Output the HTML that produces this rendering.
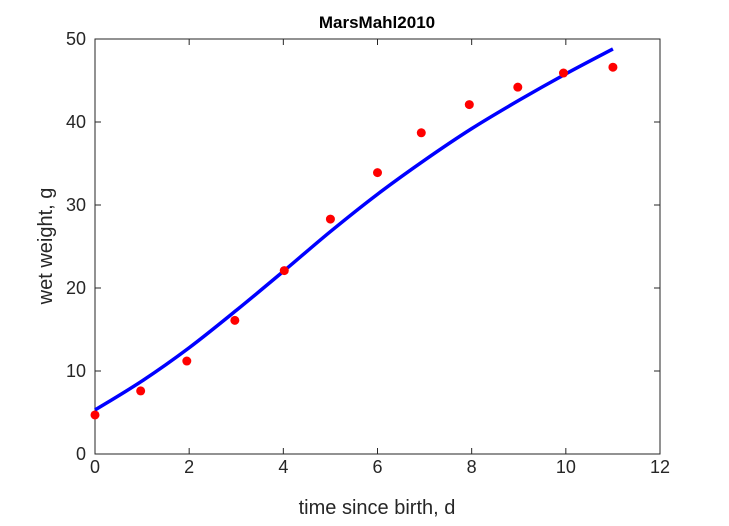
<!DOCTYPE html>
<html><head><meta charset="utf-8"><style>
body{margin:0;background:#fff}
svg text{font-family:"Liberation Sans",Arial,sans-serif}
</style></head><body>
<svg id="chart" width="729" height="521" xmlns="http://www.w3.org/2000/svg">
<rect width="729" height="521" fill="#fff"/>
<g id="axes"></g>
<g id="marks"></g>
<text x="377" y="28" text-anchor="middle" font-size="17" font-weight="bold">MarsMahl2010</text>
<text x="377" y="514" text-anchor="middle" font-size="20" fill="#262626">time since birth, d</text>
<text transform="translate(52,246) rotate(-90)" text-anchor="middle" font-size="20" fill="#262626">wet weight, g</text>
</svg>
<script>
const xTicks=[0,2,4,6,8,10,12];
const yTicks=[0,10,20,30,40,50];
const dataT=[0,0.97,1.95,2.97,4.02,5,6,6.93,7.95,8.98,9.95,11];
const dataW=[4.7,7.6,11.2,16.1,22.1,28.3,33.9,38.7,42.1,44.2,45.9,46.6];
const fitT=[0,1,2,3,4,5,6,7,8,9,10,11];
const fitW=[5.3,8.8,12.8,17.3,22.0,26.8,31.3,35.4,39.2,42.6,45.8,48.8];
const L=95,R=660,T=39,B=454;
const sx=v=>L+(v-0)/(12-0)*(R-L);
const sy=v=>B-(v-0)/(50-0)*(B-T);
const NS="http://www.w3.org/2000/svg";
const ax=document.getElementById('axes'),mk=document.getElementById('marks');
function el(t,a,p){const e=document.createElementNS(NS,t);for(const k in a)e.setAttribute(k,a[k]);p.appendChild(e);return e;}
const box=el('rect',{x:L,y:T,width:R-L,height:B-T,fill:'none',stroke:'#262626','stroke-width':1},ax);


xTicks.forEach(v=>{const x=sx(v);
 el('line',{x1:x,x2:x,y1:B,y2:B-6,stroke:'#262626'},ax);
 el('line',{x1:x,x2:x,y1:T,y2:T+6,stroke:'#262626'},ax);
 const t=el('text',{x:x,y:B+19,'text-anchor':'middle','font-size':18,fill:'#262626'},ax);t.textContent=v;
 
 });
yTicks.forEach(v=>{const y=sy(v);
 el('line',{x1:L,x2:L+6,y1:y,y2:y,stroke:'#262626'},ax);
 el('line',{x1:R,x2:R-6,y1:y,y2:y,stroke:'#262626'},ax);
 const t=el('text',{x:L-9,y:y+6,'text-anchor':'end','font-size':18,fill:'#262626'},ax);t.textContent=v;
 
 });
// smooth catmull-rom path through fit points
const P=fitT.map((t,i)=>[sx(t),sy(fitW[i])]);
let d='M'+P[0][0]+' '+P[0][1];
for(let i=0;i<P.length-1;i++){
 const p0=P[Math.max(0,i-1)],p1=P[i],p2=P[i+1],p3=P[Math.min(P.length-1,i+2)];
 const c1=[p1[0]+(p2[0]-p0[0])/6,p1[1]+(p2[1]-p0[1])/6];
 const c2=[p2[0]-(p3[0]-p1[0])/6,p2[1]-(p3[1]-p1[1])/6];
 d+=' C'+c1[0]+' '+c1[1]+' '+c2[0]+' '+c2[1]+' '+p2[0]+' '+p2[1];
}
const p=el('path',{d:d,fill:'none',stroke:'#0000ff','stroke-width':3.5},mk);


dataT.forEach((t,i)=>{const c=el('circle',{cx:sx(t),cy:sy(dataW[i]),r:4.5,fill:'#ff0000'},mk);
 
 });
</script>
</body></html>
